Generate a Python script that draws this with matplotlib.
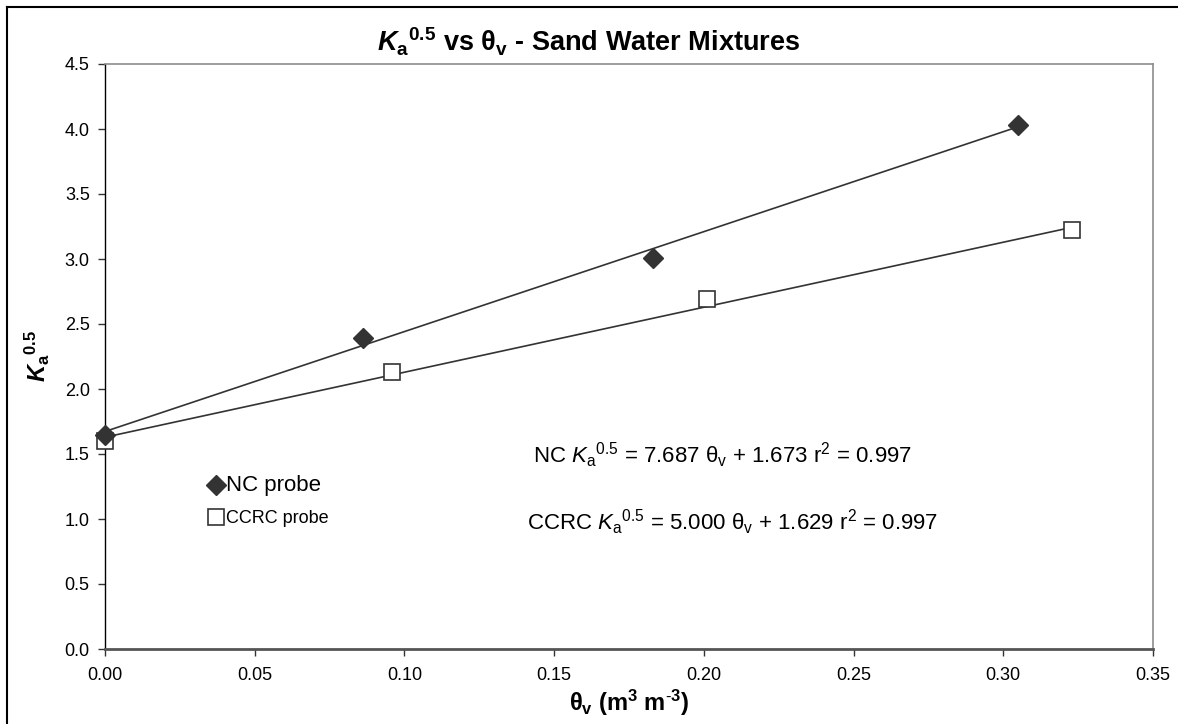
import numpy as np
import matplotlib
matplotlib.use('Agg')
import matplotlib.pyplot as plt
from matplotlib.lines import Line2D

plt.rcParams['font.family'] = ['Liberation Sans', 'DejaVu Sans']
plt.rcParams['mathtext.fontset'] = 'custom'
plt.rcParams['mathtext.rm'] = 'Liberation Sans'
plt.rcParams['mathtext.it'] = 'Liberation Sans:italic'
plt.rcParams['mathtext.bf'] = 'Liberation Sans:bold'
plt.rcParams['mathtext.bfit'] = 'Liberation Sans:italic:bold'

# measured points
nc_theta = [0.000, 0.086, 0.183, 0.305]
nc_ka = [1.65, 2.39, 3.01, 4.03]
ccrc_theta = [0.000, 0.0957, 0.201, 0.323]
ccrc_ka = [1.60, 2.13, 2.69, 3.22]

# linear fits (slope, intercept, r2)
nc_fit = (7.687, 1.673, 0.997)
ccrc_fit = (5.000, 1.629, 0.997)

xticks = [0.00, 0.05, 0.10, 0.15, 0.20, 0.25, 0.30, 0.35]
yticks = [0.0, 0.5, 1.0, 1.5, 2.0, 2.5, 3.0, 3.5, 4.0, 4.5]

fig = plt.figure(figsize=(11.78, 7.24), dpi=100)
ax = fig.add_axes([105 / 1178, 1 - 649 / 724, 1048 / 1178, 585 / 724])

# trend lines over the data range
for th, (m, b, r2) in [(nc_theta, nc_fit), (ccrc_theta, ccrc_fit)]:
    xs = np.array([min(th), max(th)])
    ax.plot(xs, m * xs + b, color='#333333', lw=1.2, zorder=2, clip_on=False)

ax.plot(nc_theta, nc_ka, linestyle='None', marker='D', ms=10,
        color='#333333', mec='#333333', zorder=4, clip_on=False,
        label='NC probe')
ax.plot(ccrc_theta, ccrc_ka, linestyle='None', marker='s', ms=12,
        mfc='white', mec='#333333', mew=1.2, zorder=3, clip_on=False,
        label='CCRC probe')

ax.set_xlim(0, 0.35)
ax.set_ylim(0, 4.5)
ax.set_xticks(xticks)
ax.set_yticks(yticks)
ax.set_xticklabels(['%.2f' % v for v in xticks])
ax.set_yticklabels(['%.1f' % v for v in yticks])
ax.tick_params(axis='both', direction='out', length=5, width=1,
               labelsize=13, color='#333333', labelcolor='black')
ax.tick_params(axis='x', pad=8)
ax.tick_params(axis='y', pad=6)

ax.spines['left'].set_color('black')
ax.spines['left'].set_linewidth(1.0)
ax.spines['bottom'].set_color('#555555')
ax.spines['bottom'].set_linewidth(2.0)
for s in ['top', 'right']:
    ax.spines[s].set_color('#8c8c8c')
    ax.spines[s].set_linewidth(1.2)

ax.set_xlabel(r'θ$_{\mathbf{v}}$ (m$^{\mathbf{3}}$ m$^{\mathbf{\text{-}3}}$)',
              fontsize=17, fontweight='bold', labelpad=3)
ax.set_ylabel(r'$\mathbfit{K}_{\mathbf{a}}{}^{\mathbf{0.5}}$', fontsize=17,
              labelpad=9)

fig.text(0.5, 1 - 42 / 724,
         r'$\mathbfit{K}_{\mathbf{a}}{}^{\mathbf{0.5}}$ vs θ$_{\mathbf{v}}$ - Sand Water Mixtures',
         ha='center', va='center', fontsize=19.5, fontweight='bold')

leg = ax.legend(loc='upper left', bbox_to_anchor=(0.094, 0.31), frameon=False,
                handlelength=0.6, handletextpad=0.25, labelspacing=0.8,
                borderaxespad=0, fontsize=13)
leg.get_texts()[0].set_fontsize(16)

ax.text(0.408, 0.332,
        r'NC $K_{\mathrm{a}}{}^{0.5}$ = %.3f θ$_{\mathrm{v}}$ + %.3f r$^{2}$ = %.3f' % nc_fit,
        transform=ax.transAxes, fontsize=16, va='center')
ax.text(0.403, 0.217,
        r'CCRC $K_{\mathrm{a}}{}^{0.5}$ = %.3f θ$_{\mathrm{v}}$ + %.3f r$^{2}$ = %.3f' % ccrc_fit,
        transform=ax.transAxes, fontsize=16, va='center')

# outer chart border
fig.add_artist(Line2D([7 / 1178, 7 / 1178], [0, 1 - 7 / 724],
                      transform=fig.transFigure, color='black', lw=1.5))
fig.add_artist(Line2D([7 / 1178, 1], [1 - 7 / 724, 1 - 7 / 724],
                      transform=fig.transFigure, color='black', lw=1.5))

plt.savefig('out.png', dpi=100)
